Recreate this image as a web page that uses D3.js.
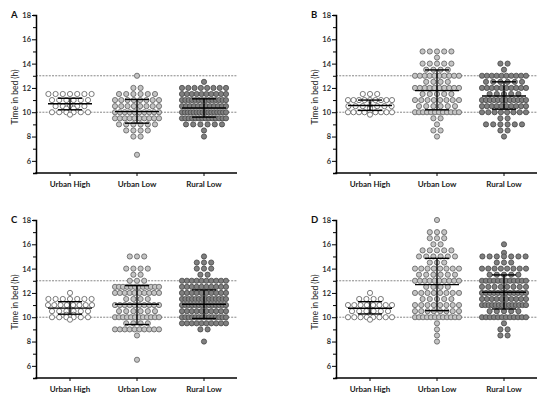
<!DOCTYPE html>
<html>
<head>
<meta charset="utf-8">
<script src="https://cdn.jsdelivr.net/npm/d3@7"></script>
<style>
  body { margin: 0; background: #fff; }
  text { font-family: Lato, "Liberation Sans", sans-serif; }
</style>
</head>
<body>
<div id="chart-area"></div>
<script>

// Groups on the x axis
var categories = ["Urban High", "Urban Low", "Rural Low"];

// Each dot row: [hours, number of subjects]
var aUrbanHigh = [[11.5,7],[11,6],[10.5,5],[10.3,2],[10,6],[9.8,1]];
var aUrbanLow  = [[13,1],[12,2],[11.5,6],[11,8],[10.5,8],[10,10],[9.5,10],[9,6],[8.5,4],[8,2],[6.5,1]];
var aRuralLow  = [[12.5,1],[12,8],[11.5,10],[11,14],[10.5,12],[10,16],[9.5,14],[9,6],[8.5,1],[8,1]];

var bUrbanHigh = [[11.5,3],[11,9],[10.5,7],[10.3,1],[10,9],[9.8,1]];
var bUrbanLow  = [[15,5],[14.5,1],[14,5],[13.5,4],[13,10],[12.5,4],[12,10],[11.5,5],[11,8],[10.5,6],[10,12],[9.5,2],[9,1],[8.5,2],[8,1]];
var bRuralLow  = [[14,2],[13.5,1],[13,10],[12.5,6],[12,10],[11.5,5],[11,12],[10.5,10],[10,8],[9.5,2],[9,6],[8.5,2],[8,1]];

var cUrbanHigh = [[12,1],[11.5,7],[11,8],[10.5,6],[10.2,2],[10,6],[9.8,1]];
var cUrbanLow  = [[15,3],[14,4],[13.5,2],[13,3],[12.5,12],[12,10],[11.5,4],[11,10],[10.5,6],[10,12],[9.5,4],[9,10],[8.5,1],[6.5,1]];
var cRuralLow  = [[15,1],[14.5,3],[14,3],[13.5,2],[13,10],[12.5,10],[12,10],[11.5,14],[11,14],[10.5,10],[10,14],[9.5,10],[9,2],[8,1]];

var dUrbanHigh = [[12,1],[11.5,4],[11,8],[10.5,6],[10.2,1],[10,8],[9.8,1]];
var dUrbanLow  = [[18,1],[17,3],[16.5,3],[16,2],[15.5,5],[15,6],[14.5,3],[14,8],[13.5,6],[13,10],[12.5,4],[12,8],[11.5,5],[11,8],[10.5,8],[10,12],[9.5,1],[9,1],[8.5,1],[8,1]];
var dRuralLow  = [[16,1],[15.3,1],[15,7],[14.5,3],[14,8],[13.5,5],[13,12],[12.5,8],[12,12],[11.5,10],[11,14],[10.5,5],[10,12],[9.5,1],[9,2],[8.5,2]];

// Mean and SD bars: [mean, mean-SD, mean+SD]
var aSummary = [[10.7,10.2,11.15],[10.05,9.1,11.05],[10.35,9.6,11.1]];
var bSummary = [[10.55,10.15,11.0],[11.78,10.2,13.48],[11.34,10.25,12.5]];
var cSummary = [[10.75,10.25,11.28],[11.07,9.4,12.6],[11.07,9.9,12.25]];
var dSummary = [[10.74,10.27,11.28],[12.68,10.54,14.85],[12.06,10.68,13.48]];

// Reference lines (h)
var refLines = [10, 13];
var yTicks = [6, 8, 10, 12, 14, 16, 18];

var panels = [
    { id: "A", dx: 0,   dy: 0,   groups: [aUrbanHigh, aUrbanLow, aRuralLow], summary: aSummary },
    { id: "B", dx: 300, dy: 0,   groups: [bUrbanHigh, bUrbanLow, bRuralLow], summary: bSummary },
    { id: "C", dx: 0,   dy: 205, groups: [cUrbanHigh, cUrbanLow, cRuralLow], summary: cSummary },
    { id: "D", dx: 300, dy: 205, groups: [dUrbanHigh, dUrbanLow, dRuralLow], summary: dSummary }
];

var fills = ["#ffffff", "#c4c4c4", "#7f7f7f"];
var strokes = ["#5a5a5a", "#5e5e5e", "#474747"];

var svg = d3.select("#chart-area").append("svg")
    .attr("width", 550)
    .attr("height", 398);

// Scales shared by every panel (panels are just translated)
var x = d3.scalePoint().domain(categories).range([70, 204]);
var y = d3.scaleLinear().domain([5, 18]).range([173, 15]);
var axisLeftX = 36, axisRightX = 237;

var dotR = 2.6, dotGap = 7.2, rowMax = 44;

panels.forEach(function(p) {
    var g = svg.append("g")
        .attr("transform", "translate(" + p.dx + "," + p.dy + ")");

    // dotted reference lines
    g.selectAll(".ref")
        .data(refLines)
        .enter().append("line")
        .attr("x1", axisLeftX)
        .attr("x2", axisRightX)
        .attr("y1", function(d) { return y(d); })
        .attr("y2", function(d) { return y(d); })
        .attr("stroke", "#7a7a7a")
        .attr("stroke-width", 0.9)
        .attr("stroke-dasharray", "2,1.2");

    // dots: every row is spread evenly around the group centre
    p.groups.forEach(function(rows, gi) {
        var pts = [];
        rows.forEach(function(r) {
            var n = r[1];
            var w = Math.min((n - 1) * dotGap, rowMax);
            for (var i = 0; i < n; i++) {
                var off = n > 1 ? -w / 2 + i * w / (n - 1) : 0;
                pts.push({ v: r[0], off: off });
            }
        });
        g.append("g").selectAll("circle")
            .data(pts)
            .enter().append("circle")
            .attr("cx", function(d) { return x(categories[gi]) + d.off; })
            .attr("cy", function(d) { return y(d.v); })
            .attr("r", dotR)
            .attr("fill", fills[gi])
            .attr("stroke", strokes[gi])
            .attr("stroke-width", 0.8);
    });

    // mean +- SD
    p.summary.forEach(function(s, gi) {
        var cx = x(categories[gi]);
        var eb = g.append("g").attr("stroke", "#000").attr("stroke-width", 1.4);
        eb.append("line")
            .attr("x1", cx).attr("x2", cx)
            .attr("y1", y(s[1])).attr("y2", y(s[2]));
        eb.append("line")
            .attr("x1", cx - 22).attr("x2", cx + 22)
            .attr("y1", y(s[0])).attr("y2", y(s[0]));
        [s[1], s[2]].forEach(function(v) {
            eb.append("line")
                .attr("x1", cx - 12).attr("x2", cx + 12)
                .attr("y1", y(v)).attr("y2", y(v));
        });
    });

    // y axis with minor ticks every hour
    var yAxis = g.append("g")
        .attr("transform", "translate(" + axisLeftX + ",0)")
        .call(d3.axisLeft(y).tickValues(d3.range(5, 19)).tickSize(3)
            .tickFormat(function(d) { return yTicks.indexOf(d) >= 0 ? d : ""; }));
    yAxis.select(".domain").attr("stroke", "#000").attr("stroke-width", 1.5);
    yAxis.selectAll(".tick line").attr("stroke", "#000").attr("stroke-width", 1);
    yAxis.selectAll(".tick text")
        .attr("x", -5)
        .attr("font-size", "7.5px")
        .attr("font-weight", "bold")
        .attr("fill", "#333");
    yAxis.selectAll(".tick")
        .filter(function(d) { return yTicks.indexOf(d) >= 0; })
        .select("line").attr("x2", -4);

    // x axis
    var xAxis = g.append("g")
        .attr("transform", "translate(0," + y(5) + ")");
    xAxis.append("line")
        .attr("x1", axisLeftX - 0.75).attr("x2", axisRightX)
        .attr("stroke", "#000").attr("stroke-width", 1.5);
    xAxis.selectAll(".xt")
        .data(categories)
        .enter().append("line")
        .attr("x1", function(d) { return x(d); })
        .attr("x2", function(d) { return x(d); })
        .attr("y1", 0).attr("y2", 3)
        .attr("stroke", "#000").attr("stroke-width", 1);
    xAxis.selectAll(".xl")
        .data(categories)
        .enter().append("text")
        .attr("x", function(d) { return x(d); })
        .attr("y", 14)
        .attr("text-anchor", "middle")
        .attr("font-size", "8px")
        .attr("font-weight", "bold")
        .attr("fill", "#222")
        .text(function(d) { return d; });

    // y axis title
    g.append("text")
        .attr("transform", "rotate(-90)")
        .attr("x", -97)
        .attr("y", 18)
        .attr("text-anchor", "middle")
        .attr("font-size", "8.5px")
        .attr("fill", "#222")
        .text("Time in bed (h)");

    // panel letter
    g.append("text")
        .attr("x", 11)
        .attr("y", 18)
        .attr("font-size", "9.5px")
        .attr("font-weight", "bold")
        .attr("fill", "#111")
        .text(p.id);
});

</script>
</body>
</html>
